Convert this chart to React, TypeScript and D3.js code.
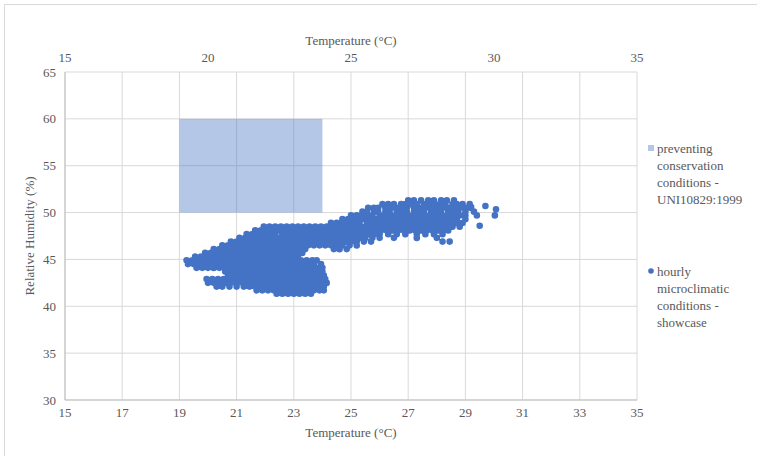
import React, { useEffect, useRef } from 'react';
import * as d3 from 'd3';

const bottomTicks = [15, 17, 19, 21, 23, 25, 27, 29, 31, 33, 35];
const topTicks = [15, 20, 25, 30, 35];
const humidityTicks = [30, 35, 40, 45, 50, 55, 60, 65];

// UNI10829:1999 target box (temperature range, humidity range)
const uniTemperature = [19, 24];
const uniHumidity = [50, 60];

// showcase readings: [RH, temperatures]
const showcaseRows: [number, number[]][] = [
  [51.3, [27.0, 27.2, 27.45, 27.7, 27.9, 28.15, 28.35, 28.6]],
  [50.9, [26.1, 26.3, 26.5, 26.75, 26.9, 27.1, 27.3, 27.55, 27.75, 27.9, 28.1, 28.3, 28.55, 28.7, 28.9, 29.15]],
  [50.5, [25.6, 25.8, 25.95, 26.2, 26.4, 26.6, 26.8, 26.95, 27.2, 27.4, 27.6, 27.8, 28.0, 28.2, 28.4, 28.6, 28.8, 29.0, 29.2]],
  [50.1, [25.4, 25.55, 25.8, 25.95, 26.2, 26.35, 26.6, 26.8, 26.95, 27.2, 27.4, 27.55, 27.8, 28.0, 28.15, 28.4, 28.6, 28.75, 29.0, 29.3]],
  [49.7, [25.0, 25.2, 25.4, 25.6, 25.75, 26.0, 26.2, 26.4, 26.6, 26.8, 27.0, 27.2, 27.4, 27.6, 27.8, 28.0, 28.2, 28.4, 28.6, 28.8, 29.0, 29.4]],
  [49.3, [24.7, 24.9, 25.1, 25.3, 25.5, 25.7, 25.9, 26.1, 26.3, 26.5, 26.7, 26.9, 27.1, 27.3, 27.5, 27.7, 27.9, 28.1, 28.3, 28.5, 28.7, 29.0]],
  [48.9, [24.3, 24.5, 24.7, 24.9, 25.1, 25.3, 25.55, 25.7, 25.9, 26.1, 26.3, 26.5, 26.7, 26.9, 27.1, 27.3, 27.5, 27.7, 27.9, 28.1, 28.3, 28.5, 28.7, 28.9]],
  [48.5, [21.95, 22.15, 22.35, 22.55, 22.75, 22.95, 23.15, 23.35, 23.55, 23.75, 23.95, 24.15, 24.35, 24.55, 24.75, 24.95, 25.15, 25.35, 25.55, 25.75, 25.95, 26.15, 26.35, 26.55, 26.75, 26.95, 27.15, 27.35, 27.55, 27.75, 27.95, 28.15, 28.35, 28.55, 28.8]],
  [48.1, [21.65, 21.85, 22.05, 22.25, 22.45, 22.65, 22.85, 23.05, 23.25, 23.45, 23.65, 23.85, 24.05, 24.25, 24.45, 24.65, 24.85, 25.05, 25.25, 25.45, 25.65, 25.85, 26.05, 26.25, 26.45, 26.65, 26.85, 27.05, 27.25, 27.45, 27.65, 27.85, 28.05, 28.2, 28.4]],
  [47.7, [21.35, 21.55, 21.75, 21.95, 22.15, 22.35, 22.6, 22.8, 23.0, 23.2, 23.4, 23.6, 23.8, 24.0, 24.2, 24.4, 24.6, 24.8, 25.0, 25.2, 25.4, 25.6, 25.8, 26.0, 26.3, 26.6, 26.9, 27.3, 27.6, 27.9, 28.2]],
  [47.3, [21.1, 21.3, 21.5, 21.7, 21.9, 22.1, 22.3, 22.5, 22.7, 22.9, 23.1, 23.3, 23.5, 23.7, 23.9, 24.1, 24.3, 24.5, 24.7, 24.9, 25.1, 25.3, 25.5, 25.75, 26.0, 26.5, 27.3, 28.0]],
  [46.9, [20.8, 21.0, 21.2, 21.4, 21.6, 21.8, 22.0, 22.2, 22.4, 22.6, 22.8, 23.0, 23.2, 23.4, 23.6, 23.8, 24.0, 24.2, 24.4, 24.6, 24.8, 25.0, 25.2, 25.45, 25.7, 28.2, 28.45]],
  [46.5, [20.5, 20.7, 20.9, 21.1, 21.3, 21.5, 21.7, 21.9, 22.1, 22.3, 22.5, 22.7, 22.9, 23.1, 23.3, 23.5, 23.7, 23.9, 24.1, 24.3, 24.5, 24.7, 24.95, 25.2]],
  [46.1, [20.2, 20.4, 20.6, 20.8, 21.0, 21.2, 21.4, 21.6, 21.8, 22.0, 22.2, 22.4, 22.6, 22.8, 23.0, 23.2, 23.4, 24.4, 24.6, 24.85]],
  [45.7, [19.9, 20.1, 20.3, 20.5, 20.7, 20.9, 21.1, 21.3, 21.5, 21.7, 21.9, 22.1, 22.3, 22.5, 22.7, 22.9, 23.1, 23.3]],
  [45.3, [19.55, 19.75, 19.95, 20.15, 20.35, 20.55, 20.75, 20.95, 21.15, 21.35, 21.55, 21.75, 21.95, 22.15, 22.35, 22.55, 22.75, 22.95, 23.15]],
  [44.9, [19.25, 19.45, 19.65, 19.85, 20.05, 20.25, 20.45, 20.65, 20.85, 21.05, 21.25, 21.45, 21.65, 21.85, 22.05, 22.25, 22.45, 22.65, 22.85, 23.05, 23.25, 23.45, 23.65, 23.8]],
  [44.5, [19.3, 19.5, 19.7, 19.9, 20.1, 20.3, 20.5, 20.7, 20.9, 21.1, 21.3, 21.5, 21.7, 21.9, 22.1, 22.3, 22.5, 22.7, 22.9, 23.1, 23.3, 23.5, 23.7, 23.95]],
  [44.1, [19.6, 19.8, 20.0, 20.2, 20.4, 20.6, 20.8, 21.0, 21.2, 21.4, 21.6, 21.8, 22.0, 22.2, 22.4, 22.6, 22.8, 23.0, 23.2, 23.4, 23.6, 23.8, 24.0]],
  [43.7, [20.6, 20.8, 21.0, 21.2, 21.4, 21.6, 21.8, 22.0, 22.2, 22.4, 22.6, 22.8, 23.0, 23.2, 23.4, 23.6, 23.8, 24.0]],
  [43.3, [20.7, 20.9, 21.1, 21.3, 21.5, 21.7, 21.9, 22.1, 22.3, 22.5, 22.7, 22.9, 23.1, 23.3, 23.5, 23.7, 23.9, 24.05]],
  [42.9, [19.95, 20.15, 20.35, 20.55, 20.75, 20.95, 21.15, 21.35, 21.55, 21.75, 21.95, 22.15, 22.35, 22.55, 22.75, 22.95, 23.15, 23.35, 23.55, 23.75, 23.95, 24.1]],
  [42.5, [20.0, 20.2, 20.4, 20.6, 20.8, 21.0, 21.2, 21.4, 21.6, 21.8, 22.0, 22.2, 22.4, 22.6, 22.8, 23.0, 23.2, 23.4, 23.6, 23.8, 24.0, 24.15]],
  [42.1, [20.3, 20.5, 20.75, 21.0, 21.25, 21.45, 21.65, 21.85, 22.05, 22.25, 22.45, 22.65, 22.85, 23.05, 23.25, 23.45, 23.65, 23.85, 24.05]],
  [41.7, [21.7, 21.9, 22.1, 22.3, 22.5, 22.7, 22.9, 23.1, 23.3, 23.5, 23.7, 23.9, 24.05]],
  [41.35, [22.4, 22.6, 22.8, 23.0, 23.2, 23.4, 23.6]],
];

// stray readings at the warm end: [temperature, RH]
const showcaseOutliers: [number, number][] = [
  [29.2, 50.6], [29.7, 50.7], [30.07, 50.35], [30.03, 49.7], [29.5, 48.6],
];

const uniLegend = ['preventing', 'conservation', 'conditions -', 'UNI10829:1999'];
const showcaseLegend = ['hourly', 'microclimatic', 'conditions -', 'showcase'];

const BLUE = '#4472C4';
const TEXT = '#595959';
const GRID = '#d9d9d9';
const FONT = "'Liberation Serif', Tinos, 'Times New Roman', 'DejaVu Serif', 'Noto Serif', Times, serif";

export default function App() {
  const svgRef = useRef<SVGSVGElement>(null);

  useEffect(() => {
    const svg = d3.select(svgRef.current);
    svg.selectAll('*').remove();

    const width = 757;
    const height = 456;
    const margin = { top: 72, right: 120, bottom: 56, left: 65 };

    const x = d3.scaleLinear().domain([15, 35]).range([margin.left, width - margin.right]);
    const y = d3.scaleLinear().domain([30, 65]).range([height - margin.bottom, margin.top]);

    svg.append('rect').attr('width', width).attr('height', height).attr('fill', '#fff');

    // outer chart frame
    svg.append('rect')
      .attr('x', 4.5).attr('y', 4.5)
      .attr('width', width + 20).attr('height', height + 20)
      .attr('fill', 'none').attr('stroke', GRID);

    // gridlines
    svg.append('g')
      .selectAll('line')
      .data(bottomTicks)
      .enter().append('line')
      .attr('x1', d => x(d)).attr('x2', d => x(d))
      .attr('y1', y(65)).attr('y2', y(30))
      .attr('stroke', GRID);

    svg.append('g')
      .selectAll('line')
      .data(humidityTicks)
      .enter().append('line')
      .attr('x1', x(15)).attr('x2', x(35))
      .attr('y1', d => y(d)).attr('y2', d => y(d))
      .attr('stroke', GRID);

    // axis lines
    svg.append('line')
      .attr('x1', x(15)).attr('x2', x(35)).attr('y1', y(30)).attr('y2', y(30))
      .attr('stroke', '#bfbfbf');
    svg.append('line')
      .attr('x1', x(15)).attr('x2', x(15)).attr('y1', y(30)).attr('y2', y(65))
      .attr('stroke', '#bfbfbf');

    // conservation range box
    svg.append('rect')
      .attr('x', x(uniTemperature[0]))
      .attr('y', y(uniHumidity[1]))
      .attr('width', x(uniTemperature[1]) - x(uniTemperature[0]))
      .attr('height', y(uniHumidity[0]) - y(uniHumidity[1]))
      .attr('fill', BLUE)
      .attr('opacity', 0.4);

    // hourly readings, merged into one path so overlapping dots fill solid
    const points: [number, number][] = [];
    showcaseRows.forEach(([rh, temps]) => temps.forEach(t => points.push([t, rh])));
    showcaseOutliers.forEach(p => points.push(p));

    const r = 3.3;
    const dots = d3.path();
    points.forEach(([t, rh]) => {
      dots.moveTo(x(t) + r, y(rh));
      dots.arc(x(t), y(rh), r, 0, 2 * Math.PI);
    });
    svg.append('path')
      .attr('d', dots.toString())
      .attr('fill', BLUE)
      .attr('fill-rule', 'nonzero');

    const label = (sel: any) => sel
      .attr('font-family', FONT)
      .attr('font-size', 13)
      .attr('fill', TEXT);

    // bottom tick labels
    svg.append('g')
      .selectAll('text')
      .data(bottomTicks)
      .enter().append('text')
      .call(label)
      .attr('x', d => x(d))
      .attr('y', y(30) + 17)
      .attr('text-anchor', 'middle')
      .text(d => d);

    // top tick labels
    svg.append('g')
      .selectAll('text')
      .data(topTicks)
      .enter().append('text')
      .call(label)
      .attr('x', d => x(d))
      .attr('y', y(65) - 10)
      .attr('text-anchor', 'middle')
      .text(d => d);

    // left tick labels
    svg.append('g')
      .selectAll('text')
      .data(humidityTicks)
      .enter().append('text')
      .call(label)
      .attr('x', x(15) - 9)
      .attr('y', d => y(d))
      .attr('dy', '0.35em')
      .attr('text-anchor', 'end')
      .text(d => d);

    // axis titles
    svg.append('text').call(label)
      .attr('x', x(25)).attr('y', y(30) + 37)
      .attr('text-anchor', 'middle')
      .text('Temperature (°C)');
    svg.append('text').call(label)
      .attr('x', x(25)).attr('y', y(65) - 27)
      .attr('text-anchor', 'middle')
      .text('Temperature (°C)');
    svg.append('text').call(label)
      .attr('transform', `translate(34,${(y(30) + y(65)) / 2}) rotate(-90)`)
      .attr('text-anchor', 'middle')
      .text('Relative Humidity (%)');

    // legend
    const lx = 651;
    svg.append('rect')
      .attr('x', lx - 3).attr('y', 145).attr('width', 6).attr('height', 6)
      .attr('fill', BLUE).attr('opacity', 0.4);
    svg.append('g')
      .selectAll('text')
      .data(uniLegend)
      .enter().append('text')
      .call(label)
      .attr('x', lx + 6)
      .attr('y', (d, i) => 148 + i * 17)
      .attr('dy', '0.35em')
      .text(d => d);

    svg.append('circle')
      .attr('cx', lx).attr('cy', 271).attr('r', 2.8).attr('fill', BLUE);
    svg.append('g')
      .selectAll('text')
      .data(showcaseLegend)
      .enter().append('text')
      .call(label)
      .attr('x', lx + 6)
      .attr('y', (d, i) => 271 + i * 17)
      .attr('dy', '0.35em')
      .text(d => d);
  }, []);

  return (
    <svg
      ref={svgRef}
      width={757}
      height={456}
      style={{ position: 'absolute', left: 0, top: 0, display: 'block' }}
    />
  );
}
